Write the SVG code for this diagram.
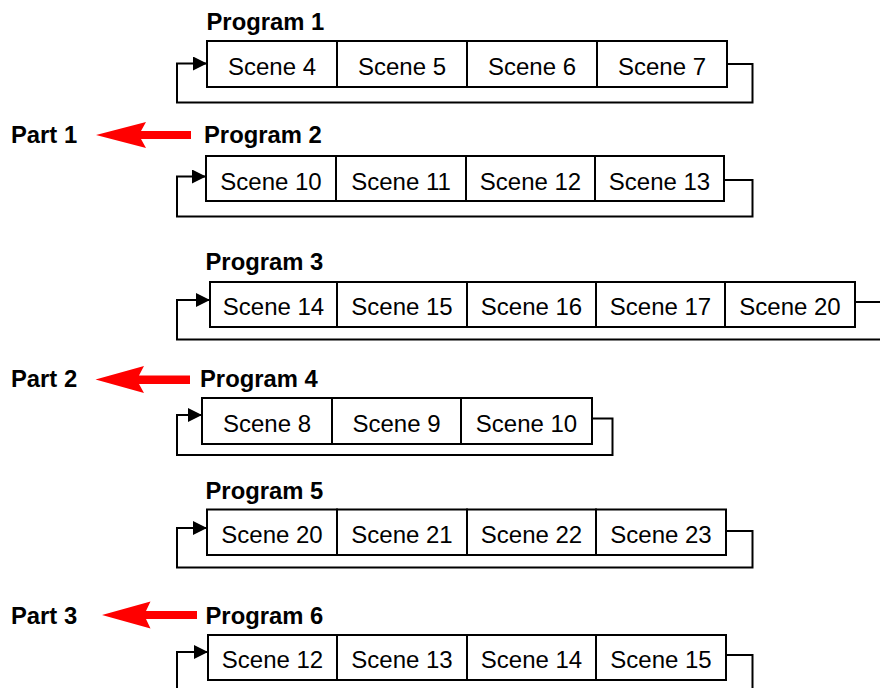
<svg xmlns="http://www.w3.org/2000/svg" width="880" height="688" viewBox="0 0 880 688">
<style>
.cell{fill:#fff;stroke:#000;stroke-width:2}
.t{font-family:"Liberation Sans",Arial,sans-serif;font-size:24px;text-anchor:middle;fill:#000}
.b{font-family:"Liberation Sans",Arial,sans-serif;font-size:23.8px;font-weight:bold;fill:#000}
.loop{fill:none;stroke:#000;stroke-width:2}
.red{fill:#ff0000;stroke:none}
</style>
<defs>
<marker id="ah" markerUnits="userSpaceOnUse" markerWidth="14" markerHeight="14" refX="14" refY="7" orient="auto">
<path d="M0,0 L14,7 L0,14 z" fill="#000"/>
</marker>
</defs>
<g id="connectors">
<path class="loop" d="M727,64 H752.5 V102.5 H177 V63.5 H207" marker-end="url(#ah)"/>
<path class="loop" d="M724,180 H752.5 V216.5 H177 V176.5 H206" marker-end="url(#ah)"/>
<path class="loop" d="M855,302 H880 M880,339.5 H177 V300 H210" marker-end="url(#ah)"/>
<path class="loop" d="M592,418.5 H612.5 V455 H177 V415 H202" marker-end="url(#ah)"/>
<path class="loop" d="M726,531 H752.5 V567.5 H177 V528 H207" marker-end="url(#ah)"/>
<path class="loop" d="M726,655 H752.5 V688 M177,688 V652 H208" marker-end="url(#ah)"/>
<polygon class="red" points="96,135 146,122 141,131 191,131 191,139 141,139 146,148"/>
<polygon class="red" points="95.5,379.5 144,366 139,375.5 190,375.5 190,384 139,384 144,393"/>
<polygon class="red" points="102,615 150.5,601.5 146,611 197,611 197,619 146,619 150.5,628.5"/>
</g>
<g id="part1"><text class="b" x="11" y="143">Part 1</text></g>
<g id="part2"><text class="b" x="11" y="387">Part 2</text></g>
<g id="part3"><text class="b" x="11" y="624">Part 3</text></g>
<g id="program1"><text class="b" x="206.5" y="30">Program 1</text></g>
<g id="program2"><text class="b" x="204" y="143">Program 2</text></g>
<g id="program3"><text class="b" x="205.5" y="270">Program 3</text></g>
<g id="program4"><text class="b" x="200" y="387">Program 4</text></g>
<g id="program5"><text class="b" x="205.5" y="498.5">Program 5</text></g>
<g id="program6"><text class="b" x="205.5" y="623.5">Program 6</text></g>

<g id="p1s4"><rect class="cell" x="207" y="41" width="130" height="46"/><text class="t" x="272" y="75">Scene 4</text></g>
<g id="p1s5"><rect class="cell" x="337" y="41" width="130" height="46"/><text class="t" x="402" y="75">Scene 5</text></g>
<g id="p1s6"><rect class="cell" x="467" y="41" width="130" height="46"/><text class="t" x="532" y="75">Scene 6</text></g>
<g id="p1s7"><rect class="cell" x="597" y="41" width="130" height="46"/><text class="t" x="662" y="75">Scene 7</text></g>

<g id="p2s10"><rect class="cell" x="206" y="156" width="130" height="45"/><text class="t" x="271" y="189.5">Scene 10</text></g>
<g id="p2s11"><rect class="cell" x="336" y="156" width="130" height="45"/><text class="t" x="401" y="189.5">Scene 11</text></g>
<g id="p2s12"><rect class="cell" x="466" y="156" width="129" height="45"/><text class="t" x="530.5" y="189.5">Scene 12</text></g>
<g id="p2s13"><rect class="cell" x="595" y="156" width="129" height="45"/><text class="t" x="659.5" y="189.5">Scene 13</text></g>

<g id="p3s14"><rect class="cell" x="210" y="282" width="127" height="45"/><text class="t" x="273.5" y="314.5">Scene 14</text></g>
<g id="p3s15"><rect class="cell" x="337" y="282" width="130" height="45"/><text class="t" x="402" y="314.5">Scene 15</text></g>
<g id="p3s16"><rect class="cell" x="467" y="282" width="129" height="45"/><text class="t" x="531.5" y="314.5">Scene 16</text></g>
<g id="p3s17"><rect class="cell" x="596" y="282" width="129" height="45"/><text class="t" x="660.5" y="314.5">Scene 17</text></g>
<g id="p3s20"><rect class="cell" x="725" y="282" width="130" height="45"/><text class="t" x="790" y="314.5">Scene 20</text></g>

<g id="p4s8"><rect class="cell" x="202" y="398" width="130" height="46"/><text class="t" x="267" y="432">Scene 8</text></g>
<g id="p4s9"><rect class="cell" x="332" y="398" width="129" height="46"/><text class="t" x="396.5" y="432">Scene 9</text></g>
<g id="p4s10"><rect class="cell" x="461" y="398" width="131" height="46"/><text class="t" x="526.5" y="432">Scene 10</text></g>

<g id="p5s20"><rect class="cell" x="207" y="509.5" width="130" height="45.5"/><text class="t" x="272" y="543">Scene 20</text></g>
<g id="p5s21"><rect class="cell" x="337" y="509.5" width="130" height="45.5"/><text class="t" x="402" y="543">Scene 21</text></g>
<g id="p5s22"><rect class="cell" x="467" y="509.5" width="129" height="45.5"/><text class="t" x="531.5" y="543">Scene 22</text></g>
<g id="p5s23"><rect class="cell" x="596" y="509.5" width="130" height="45.5"/><text class="t" x="661" y="543">Scene 23</text></g>

<g id="p6s12"><rect class="cell" x="208" y="635" width="129" height="45"/><text class="t" x="272.5" y="667.5">Scene 12</text></g>
<g id="p6s13"><rect class="cell" x="337" y="635" width="130" height="45"/><text class="t" x="402" y="667.5">Scene 13</text></g>
<g id="p6s14"><rect class="cell" x="467" y="635" width="129" height="45"/><text class="t" x="531.5" y="667.5">Scene 14</text></g>
<g id="p6s15"><rect class="cell" x="596" y="635" width="130" height="45"/><text class="t" x="661" y="667.5">Scene 15</text></g>
</svg>
